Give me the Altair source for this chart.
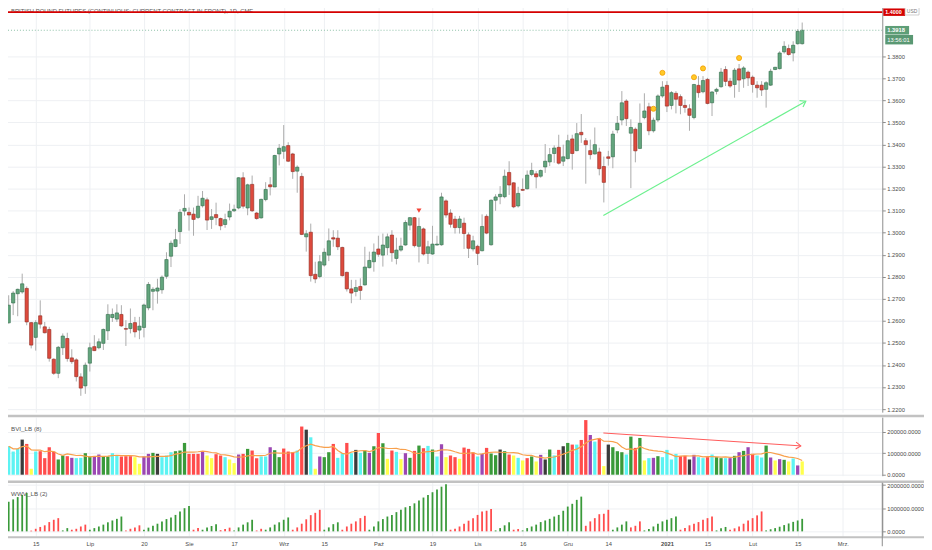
import altair as alt
import pandas as pd

# ---------------- data ----------------
opens = [
1.2591,1.2681,1.2723,1.2731,1.2747,1.2592,1.2525,1.2623,1.2573,1.2561,
1.2426,1.2362,1.2478,1.2520,1.2432,1.2423,1.2346,1.2305,1.2408,1.2483,
1.2478,1.2498,1.2555,1.2615,1.2608,1.2629,1.2565,1.2565,1.2592,1.2558,
1.2570,1.2659,1.2734,1.2735,1.2741,1.2802,1.2893,1.2937,1.3005,1.3098,
1.3092,1.3084,1.3069,1.3122,1.3149,1.3060,1.3082,1.3064,1.3037,1.3071,
1.3099,1.3112,1.3249,1.3112,1.3219,1.3089,1.3067,1.3150,1.3217,1.3207,
1.3357,1.3369,1.3395,1.3357,1.3279,1.3255,1.2981,1.3002,1.2811,1.2801,
1.2853,1.2898,1.2977,1.2975,1.2933,1.2820,1.2745,1.2733,1.2756,1.2763,
1.2841,1.2868,1.2926,1.2898,1.2932,1.2989,1.2883,1.2921,1.2944,1.3034,
1.3068,1.2938,1.3017,1.2906,1.2903,1.2944,1.2945,1.3144,1.3089,1.3061,
1.3023,1.3043,1.2990,1.2926,1.2938,1.2918,1.3074,1.2945,1.3147,1.3163,
1.3163,1.3273,1.3226,1.3121,1.3196,1.3199,1.3264,1.3267,1.3256,1.3298,
1.3321,1.3359,1.3387,1.3324,1.3336,1.3425,1.3372,1.3455,1.3417,1.3372,
1.3357,1.3366,1.3300,1.3344,1.3344,1.3466,1.3511,1.3597,1.3451,1.3469,
1.3382,1.3522,1.3571,1.3462,1.3511,1.3620,1.3668,1.3577,1.3632,1.3617,
1.3577,1.3562,1.3522,1.3668,1.3639,1.3695,1.3589,1.3641,1.3662,1.3740,
1.3687,1.3672,1.3743,1.3698,1.3728,1.3705,1.3669,1.3669,1.3650,1.3669,
1.3740,1.3744,1.3820,1.3835,1.3815,1.3857,1.3857]

highs = [
1.2716,1.2735,1.2746,1.2814,1.2756,1.2595,1.2603,1.2693,1.2595,1.2573,
1.2430,1.2486,1.2543,1.2546,1.2471,1.2430,1.2362,1.2411,1.2501,1.2535,
1.2520,1.2565,1.2675,1.2656,1.2675,1.2671,1.2603,1.2656,1.2618,1.2618,
1.2678,1.2776,1.2753,1.2791,1.2806,1.2911,1.2964,1.3017,1.3107,1.3174,
1.3114,1.3114,1.3167,1.3189,1.3159,1.3107,1.3136,1.3068,1.3086,1.3132,
1.3127,1.3252,1.3274,1.3222,1.3259,1.3094,1.3154,1.3229,1.3252,1.3353,
1.3402,1.3488,1.3410,1.3362,1.3305,1.3271,1.3011,1.3041,1.2868,1.2898,
1.2929,1.3019,1.3011,1.3011,1.2936,1.2823,1.2786,1.2786,1.2793,1.2936,
1.2914,1.2951,1.2986,1.2996,1.2996,1.3011,1.2977,1.2977,1.3056,1.3071,
1.3071,1.3068,1.3023,1.2963,1.3031,1.2986,1.3181,1.3151,1.3106,1.3076,
1.3076,1.3068,1.3001,1.2986,1.2945,1.3083,1.3083,1.3151,1.3174,1.3211,
1.3286,1.3324,1.3229,1.3208,1.3246,1.3282,1.3317,1.3279,1.3286,1.3402,
1.3384,1.3396,1.3444,1.3399,1.3444,1.3444,1.3497,1.3538,1.3429,1.3422,
1.3477,1.3385,1.3345,1.3371,1.3462,1.3529,1.3642,1.3605,1.3514,1.3477,
1.3586,1.3632,1.3589,1.3522,1.3627,1.3687,1.3687,1.3642,1.3642,1.3627,
1.3605,1.3582,1.3675,1.3710,1.3710,1.3702,1.3642,1.3657,1.3747,1.3755,
1.3702,1.3747,1.3765,1.3755,1.3735,1.3713,1.3687,1.3687,1.3687,1.3743,
1.3752,1.3823,1.3868,1.3853,1.3868,1.3923,1.3953]

lows = [
1.2588,1.2626,1.2621,1.2723,1.2580,1.2475,1.2465,1.2565,1.2543,1.2415,
1.2355,1.2340,1.2445,1.2415,1.2405,1.2325,1.2260,1.2269,1.2370,1.2463,
1.2471,1.2468,1.2513,1.2595,1.2595,1.2573,1.2486,1.2543,1.2525,1.2517,
1.2525,1.2648,1.2648,1.2678,1.2723,1.2791,1.2844,1.2934,1.2949,1.3077,
1.3009,1.2986,1.3062,1.3114,1.3012,1.3017,1.3034,1.3011,1.3022,1.3056,
1.3094,1.3106,1.3109,1.3079,1.3094,1.3059,1.3064,1.3142,1.3169,1.3207,
1.3305,1.3335,1.3320,1.3244,1.3181,1.2989,1.2914,1.2778,1.2771,1.2793,
1.2846,1.2871,1.2936,1.2921,1.2801,1.2733,1.2680,1.2711,1.2695,1.2760,
1.2838,1.2823,1.2891,1.2846,1.2898,1.2868,1.2856,1.2914,1.2941,1.3011,
1.2933,1.2865,1.2896,1.2858,1.2900,1.2941,1.2941,1.3068,1.3023,1.2996,
1.2996,1.2926,1.2885,1.2915,1.2853,1.2915,1.2993,1.2941,1.3099,1.3129,
1.3156,1.3171,1.3111,1.3114,1.3189,1.3196,1.3256,1.3201,1.3249,1.3271,
1.3302,1.3317,1.3309,1.3302,1.3332,1.3286,1.3369,1.3407,1.3222,1.3332,
1.3354,1.3260,1.3137,1.3304,1.3292,1.3451,1.3487,1.3484,1.3202,1.3319,
1.3379,1.3514,1.3442,1.3454,1.3502,1.3612,1.3547,1.3559,1.3541,1.3537,
1.3544,1.3462,1.3514,1.3612,1.3632,1.3582,1.3529,1.3627,1.3657,1.3665,
1.3657,1.3612,1.3638,1.3657,1.3665,1.3635,1.3612,1.3620,1.3567,1.3665,
1.3737,1.3740,1.3812,1.3803,1.3777,1.3853,1.3853]

closes = [
1.2671,1.2726,1.2743,1.2768,1.2595,1.2490,1.2592,1.2585,1.2546,1.2430,
1.2362,1.2480,1.2531,1.2429,1.2415,1.2347,1.2295,1.2399,1.2478,1.2465,
1.2505,1.2561,1.2629,1.2629,1.2636,1.2577,1.2562,1.2588,1.2550,1.2576,
1.2672,1.2765,1.2743,1.2749,1.2798,1.2878,1.2952,1.2968,1.3092,1.3110,
1.3080,1.3060,1.3120,1.3156,1.3057,1.3072,1.3068,1.3031,1.3059,1.3097,
1.3106,1.3249,1.3120,1.3217,1.3099,1.3064,1.3151,1.3196,1.3208,1.3350,
1.3383,1.3390,1.3324,1.3277,1.3297,1.2992,1.2995,1.2805,1.2790,1.2868,
1.2911,1.2963,1.2971,1.2936,1.2805,1.2745,1.2726,1.2751,1.2738,1.2844,
1.2874,1.2912,1.2902,1.2944,1.2981,1.2909,1.2921,1.2939,1.3046,1.3068,
1.2941,1.3028,1.2903,1.2936,1.2948,1.2948,1.3162,1.3080,1.3038,1.3023,
1.3062,1.2996,1.2929,1.2963,1.2906,1.3028,1.2998,1.3147,1.3162,1.3174,
1.3256,1.3216,1.3117,1.3178,1.3192,1.3261,1.3282,1.3253,1.3282,1.3324,
1.3354,1.3384,1.3315,1.3344,1.3417,1.3359,1.3449,1.3444,1.3399,1.3354,
1.3399,1.3290,1.3228,1.3337,1.3447,1.3496,1.3589,1.3517,1.3477,1.3371,
1.3496,1.3552,1.3462,1.3510,1.3620,1.3660,1.3574,1.3635,1.3605,1.3577,
1.3568,1.3532,1.3672,1.3635,1.3690,1.3586,1.3638,1.3650,1.3728,1.3686,
1.3665,1.3737,1.3692,1.3747,1.3702,1.3672,1.3657,1.3647,1.3680,1.3732,
1.3750,1.3815,1.3845,1.3808,1.3850,1.3913,1.3918]

bvi_volume = [
132700,108000,120400,163600,143500,27800,108000,109600,77200,128000,
108000,71000,89500,86400,78700,77200,78700,100300,84900,84900,
94100,86400,84900,100300,89500,84900,86400,86400,81800,50900,
84900,97200,101900,97200,81800,89500,104900,109600,112700,148100,
97200,97200,97200,109600,89500,77200,95700,89500,81800,71000,
54000,94100,97200,120400,112700,77200,84900,84900,128100,114200,
81800,121900,108000,104900,112700,224500,209900,174400,27800,84900,
81800,104900,143500,78700,100300,148100,100300,115700,101900,112700,
101900,132700,194400,146600,74100,112700,106500,72500,100300,78700,
111100,135800,123500,134300,117300,84900,142000,81800,89500,81800,
74100,126500,120400,103400,84900,97200,125000,98800,91000,117300,
109600,94100,89500,78700,66400,77200,84900,61700,92600,71000,
117300,90000,115700,132700,148100,140400,140400,162000,254600,185200,
154300,169800,40100,140400,128100,109600,104900,94100,177500,125000,
171300,66400,77200,78700,86400,81800,115700,71000,97200,86400,
88000,71000,92600,81800,77200,81800,94100,81800,77200,77200,
77200,88000,104900,111100,128100,97200,89500,80200,135800,80200,
66400,72500,69400,61700,75700,43200,62000]

# c = neutral (cyan), r = red, g = green, d = dark, p = purple, y = yellow
bvi_kind = list(
    "cccdrycrrr" "rggrpccggp" "pggccrrryy" "ppgdcccggg" "rrrpyyrrcy"
    "yprgrrccpg" "grrrcrdcyp" "ggrccrcdcg" "pgrgyrcypg" "rgrcgcpyrr"
    "yrrrcprggd" "grycyrgypd" "gcrdgrcrrp" "crydgggcgr" "gycpgccccr"
    "rdpccrcggc" "pgpgprccgp" "ypgycpy")

wwv_volume = [
1280000,1380000,1480000,1570000,1660000,
30000,110000,190000,260000,400000,500000,570000,
40000,140000,
70000,110000,210000,290000,
70000,140000,210000,290000,390000,470000,540000,640000,
40000,110000,170000,260000,
70000,160000,240000,330000,430000,530000,600000,710000,860000,1000000,1100000,
70000,140000,
70000,170000,230000,310000,
50000,100000,160000,
40000,170000,290000,390000,500000,
40000,110000,
70000,170000,290000,390000,500000,600000,
70000,170000,330000,520000,700000,800000,930000,
70000,170000,310000,390000,
70000,210000,330000,430000,570000,670000,
70000,210000,430000,530000,640000,710000,830000,930000,1040000,1100000,
1210000,1330000,1460000,1570000,1690000,1810000,1930000,2030000,
70000,110000,210000,330000,460000,570000,710000,860000,890000,970000,
40000,140000,260000,390000,
70000,100000,
40000,140000,210000,290000,400000,470000,540000,640000,710000,890000,
1070000,1190000,1360000,1500000,
240000,430000,570000,740000,760000,930000,
70000,170000,290000,430000,
170000,240000,430000,
40000,100000,210000,330000,430000,500000,570000,640000,
70000,140000,260000,330000,400000,500000,570000,640000,
40000,130000,190000,
70000,130000,210000,330000,470000,570000,690000,860000,
40000,90000,140000,200000,270000,340000,410000,470000,540000]

wwv_dir = list(
    "ggggg" "rrrrrrr" "gg" "rrrr" "gggggggg" "rrrr" "ggggggggggg" "rr"
    "gggg" "rrr" "ggggg" "rr" "gggggg" "rrrrrrr" "gggg" "rrrrrr"
    "gggggggggggggggggg" "rrrrrrrrrr" "gggg" "rr" "gggggggggggggg"
    "rrrrrr" "gggg" "rrr" "gggggggg" "rrrrrrrr" "ggg" "rrrrrrrr" "ggggggggg")

time_ticks = [6, 18, 30, 40, 50, 61, 70, 82, 94, 104, 114, 124, 133, 146, 155, 165, 175, 185]
time_labels = ["15", "Lip", "20", "Sie", "17", "Wrz", "15", "Paź", "19", "Lis",
               "16", "Gru", "14", "2021", "15", "Lut", "15", "Mrz."]
price_ticks = [1.22, 1.23, 1.24, 1.25, 1.26, 1.27, 1.28, 1.29, 1.30, 1.31,
               1.32, 1.33, 1.34, 1.35, 1.36, 1.37, 1.38]
bvi_ticks = [0, 100000, 200000]
wwv_ticks = [0, 1000000, 2000000]

resistance_level = [1.40]
last_price = [1.3918]
countdown = ["13:56:01"]
trend_idx = [131.9, 176.8]
trend_price = [1.3078, 1.3596]
bvi_trend_idx = [131.9, 175.7]
bvi_trend_val = [194400, 134300]
signal_idx = [91]
signal_price = [1.3100]
fractal_idx = [143, 145, 152, 154, 162]
fractal_price = [1.3562, 1.3725, 1.3705, 1.3745, 1.3792]
title_text = "BRITISH POUND FUTURES (CONTINUOUS: CURRENT CONTRACT IN FRONT), 1D, CME"

# ---------------- layout ----------------
W = 886
H1, H2, H3 = 413, 59, 54
GRID = "#eef0f3"
AXC = "#8c8c8c"
LAB = "#4a4a4a"
FS = 5.8
LEFT = 9  # first visible pixel column of the page content

N = len(opens)
for arr in (highs, lows, closes, bvi_volume, bvi_kind, wwv_volume, wwv_dir):
    assert len(arr) == N, len(arr)

df = pd.DataFrame({
    "idx": list(range(N)), "open": opens, "high": highs, "low": lows, "close": closes,
    "bvi": bvi_volume, "bkind": bvi_kind, "wwv": wwv_volume, "wdir": wwv_dir,
})
df["high"] = df[["open", "high", "close"]].max(axis=1)
df["low"] = df[["open", "low", "close"]].min(axis=1)
df["body_lo"] = df[["open", "close"]].min(axis=1)
df["body_hi"] = df[["open", "close"]].max(axis=1)
df["dir"] = ["up" if c >= o else "down" for o, c in zip(opens, closes)]

xs = alt.Scale(domain=[-0.37, 192.66], nice=False, zero=False)
ps = alt.Scale(domain=[1.2186, 1.4047], nice=False, zero=False)
bs = alt.Scale(domain=[-4630, 268500], nice=False, zero=False)
ws = alt.Scale(domain=[-214600, 2103000], nice=False, zero=False)

grid_x = alt.Axis(values=time_ticks, labels=False, ticks=False, domain=False,
                  grid=True, gridColor=GRID, title=None)


def yaxis(vals, fmt_expr=None, fmt=None):
    kw = dict(orient="right", values=vals, grid=True, gridColor=GRID, domainColor=AXC,
              tickColor=AXC, tickSize=3, labelFontSize=FS, labelColor=LAB,
              labelPadding=1.5, title=None)
    if fmt_expr:
        kw["labelExpr"] = fmt_expr
    if fmt:
        kw["format"] = fmt
    return alt.Axis(**kw)


price_axis = yaxis(price_ticks, fmt=".4f")
bvi_axis = yaxis(bvi_ticks, fmt_expr="format(datum.value, '.4f')")
wwv_axis = yaxis(wwv_ticks, fmt_expr="format(datum.value, '.4f')")

X = alt.X("idx:Q", scale=xs, axis=grid_x)


def PY(field):
    return alt.Y(field, scale=ps, axis=price_axis)


def BY(field):
    return alt.Y(field, scale=bs, axis=bvi_axis)


def rect_path(h):
    return "M-1,-%sL1,-%sL1,%sL-1,%sZ" % (h, h, h, h)


# ---------------- price panel ----------------
wick = alt.Chart(df).mark_rule(color="#ababab", strokeWidth=1).encode(
    x=X, y=PY("low:Q"), y2="high:Q")

body = alt.Chart(df).mark_bar(width=3.3, strokeWidth=0.6).encode(
    x=X, y=PY("body_lo:Q"), y2="body_hi:Q",
    fill=alt.Fill("dir:N", scale=alt.Scale(domain=["up", "down"], range=["#63a57d", "#dd4a3d"]), legend=None),
    stroke=alt.Stroke("dir:N", scale=alt.Scale(domain=["up", "down"], range=["#2f6a48", "#8f2a20"]), legend=None))

title = alt.Chart(pd.DataFrame({"t": [title_text]})).mark_text(
    align="left", baseline="middle", fontSize=5.9, color="#5a5a5a").encode(
    x=alt.value(LEFT), y=alt.value(9.5), text="t:N")

res_df = pd.DataFrame({"p": resistance_level, "label": ["1.4000"], "u": ["USD"]})
last_df = pd.DataFrame({"p": last_price, "label": ["1.3918"], "cd": countdown})

res_line = alt.Chart(res_df).mark_rule(color="#d50000", strokeWidth=1.7).encode(
    x=alt.value(0), x2=alt.value(W), y=PY("p:Q"))
last_line = alt.Chart(last_df).mark_rule(color="#8cc0a6", strokeWidth=1, strokeDash=[1, 2]).encode(
    x=alt.value(0), x2=alt.value(W), y=PY("p:Q"))

tr_df = pd.DataFrame({"idx": trend_idx, "p": trend_price})
trend = alt.Chart(tr_df).mark_line(color="#6cf08e", strokeWidth=1.2).encode(x=X, y=PY("p:Q"))
trend_head = alt.Chart(tr_df.tail(1)).mark_point(
    shape="M-1,-0.7L0,0L-1,0.7", angle=331, filled=False, size=110,
    strokeWidth=1.2, color="#6cf08e", opacity=1).encode(x=X, y=PY("p:Q"))

sig = alt.Chart(pd.DataFrame({"idx": signal_idx, "p": signal_price})).mark_point(
    shape="triangle-down", filled=True, size=26, color="#f44336", opacity=1).encode(
    x=X, y=PY("p:Q"))

frac = alt.Chart(pd.DataFrame({"idx": fractal_idx, "p": fractal_price})).mark_point(
    shape="circle", filled=True, size=26, fill="#ffc928", stroke="#f29d00",
    strokeWidth=0.8, opacity=1).encode(x=X, y=PY("p:Q"))

red_tag = alt.Chart(res_df).mark_point(shape=rect_path(0.34), size=484, filled=True,
                                       color="#d50000", opacity=1, strokeWidth=0).encode(
    x=alt.value(W + 12), y=PY("p:Q"))
red_txt = alt.Chart(res_df).mark_text(align="left", baseline="middle", fontSize=5.4,
                                      fontWeight="bold", color="white").encode(
    x=alt.value(W + 3), y=PY("p:Q"), text="label:N")
usd_box = alt.Chart(res_df).mark_point(shape=rect_path(0.62), size=196,
                                       filled=True, fill="white", stroke="#c4c4c4",
                                       strokeWidth=0.8, opacity=1, yOffset=-1.5).encode(
    x=alt.value(W + 30), y=PY("p:Q"))
usd_txt = alt.Chart(res_df).mark_text(
    align="center", baseline="middle", fontSize=5, color="#777777", dy=-1.5).encode(
    x=alt.value(W + 30), y=PY("p:Q"), text="u:N")

g_tag = alt.Chart(last_df).mark_point(shape=rect_path(0.36), size=576, filled=True,
                                      color="#5e9e77", opacity=1, strokeWidth=0).encode(
    x=alt.value(W + 15), y=PY("p:Q"))
g_txt = alt.Chart(last_df).mark_text(align="left", baseline="middle", fontSize=FS,
                                     fontWeight="bold", color="white").encode(
    x=alt.value(W + 5), y=PY("p:Q"), text="label:N")
t_tag = alt.Chart(last_df).mark_point(shape=rect_path(0.34), size=784, filled=True,
                                      color="#5a9873", opacity=1, strokeWidth=0,
                                      yOffset=9.5).encode(
    x=alt.value(W + 17), y=PY("p:Q"))
t_txt = alt.Chart(last_df).mark_text(align="left", baseline="middle", fontSize=FS,
                                     color="white", dy=9.5).encode(
    x=alt.value(W + 5), y=PY("p:Q"), text="cd:N")

price = alt.layer(wick, body, title, last_line, res_line, trend, trend_head, sig, frac,
                  red_tag, red_txt, usd_box, usd_txt, g_tag, g_txt, t_tag, t_txt
                  ).properties(width=W, height=H1)

# ---------------- BVI panel ----------------
one = pd.DataFrame({"a": [0]})


def separator():
    return alt.Chart(one).mark_rule(color="#c2c2c2", strokeWidth=2.5).encode(
        x=alt.value(0), x2=alt.value(W + 46), y=alt.value(-1))


bvi_bars = alt.Chart(df).mark_bar(width=3.3).encode(
    x=X, y=BY("bvi:Q"),
    color=alt.Color("bkind:N", scale=alt.Scale(
        domain=["c", "r", "g", "d", "p", "y"],
        range=["#5cf3f3", "#ff4c4c", "#3a9a3a", "#3b3b3b", "#9b47b3", "#ffff4d"]), legend=None))

bvi_ma = alt.Chart(df).transform_window(
    ma="mean(bvi)", frame=[-7, 0], sort=[alt.SortField("idx")]
).mark_line(color="#f8a04c", strokeWidth=1.2).encode(x=X, y=BY("ma:Q"))

btr_df = pd.DataFrame({"idx": bvi_trend_idx, "v": bvi_trend_val})
bvi_tr = alt.Chart(btr_df).mark_line(color="#ff5b5b", strokeWidth=1).encode(x=X, y=BY("v:Q"))
bvi_head = alt.Chart(btr_df.tail(1)).mark_point(
    shape="M-1,-0.7L0,0L-1,0.7", angle=4, filled=False, size=100, strokeWidth=1,
    color="#ff5b5b", opacity=1).encode(x=X, y=BY("v:Q"))

bvi_lbl = alt.Chart(pd.DataFrame({"t": ["BVI_LB (8)"]})).mark_text(
    align="left", baseline="middle", fontSize=6.3, color="#555555").encode(
    x=alt.value(LEFT), y=alt.value(12), text="t:N")

bvi = alt.layer(bvi_bars, bvi_ma, bvi_tr, bvi_head, bvi_lbl, separator()).properties(width=W, height=H2)

# ---------------- WWV panel ----------------
label_expr = "[" + ",".join("'%s'" % s for s in time_labels) + "][indexof([" + \
             ",".join(str(t) for t in time_ticks) + "], datum.value)]"
time_axis = alt.Axis(values=time_ticks, labelExpr=label_expr, grid=True, gridColor=GRID,
                     ticks=False, domain=False, labelFontSize=FS, labelColor=LAB,
                     labelPadding=4, labelOverlap=False, labelFlush=False, title=None,
                     labelFontWeight={"condition": {"test": "datum.value == 146", "value": "bold"},
                                      "value": "normal"})

wwv_bars = alt.Chart(df).mark_bar(width=1.8).encode(
    x=alt.X("idx:Q", scale=xs, axis=time_axis),
    y=alt.Y("wwv:Q", scale=ws, axis=wwv_axis),
    color=alt.Color("wdir:N", scale=alt.Scale(domain=["g", "r"], range=["#459a45", "#ff3d3d"]), legend=None))

wwv_lbl = alt.Chart(pd.DataFrame({"t": ["WWV_LB (2)"]})).mark_text(
    align="left", baseline="middle", fontSize=6.3, color="#555555").encode(
    x=alt.value(LEFT), y=alt.value(11), text="t:N")

bottom_line = alt.Chart(one).mark_rule(color="#c2c2c2", strokeWidth=2).encode(
    x=alt.value(0), x2=alt.value(W + 46), y=alt.value(H3 + 1))
vline = alt.Chart(one).mark_rule(color=AXC, strokeWidth=1).encode(
    x=alt.value(W), y=alt.value(0), y2=alt.value(H3 + 10))

wwv = alt.layer(wwv_bars, wwv_lbl, separator(), bottom_line, vline).properties(width=W, height=H3)

chart = alt.vconcat(price, bvi, wwv, spacing=2).properties(
    padding={"left": -8, "top": -8, "right": -6, "bottom": 0}
).configure(font="Liberation Sans").configure_view(stroke=None)

chart.save("out.html", embed_options={"renderer": "svg", "actions": False})
